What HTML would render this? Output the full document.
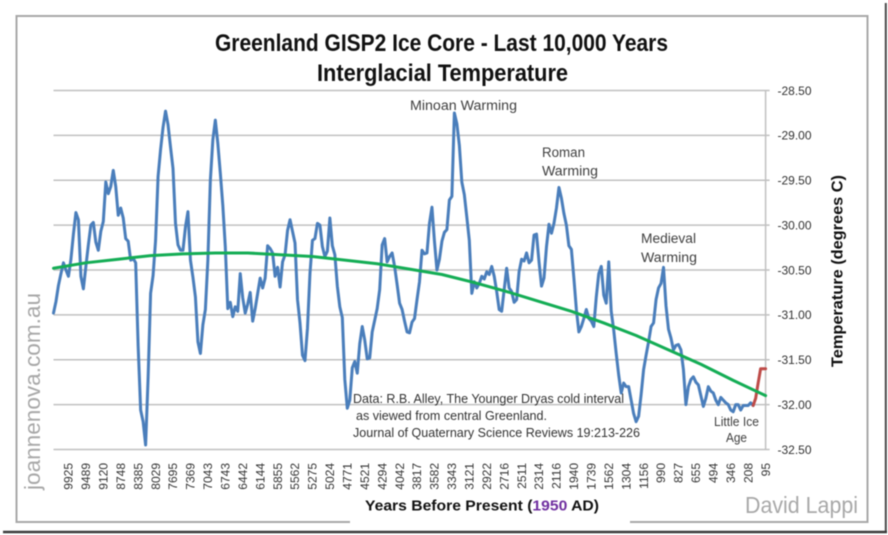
<!DOCTYPE html>
<html lang="en">
<head>
<meta charset="utf-8">
<title>Greenland GISP2 Ice Core - Last 10,000 Years</title>
<style>
html,body{margin:0;padding:0;background:#fff;width:888px;height:535px;overflow:hidden}
svg{display:block;filter:blur(0.45px)}
text{font-family:"Liberation Sans",sans-serif}
</style>
</head>
<body>
<svg id="chart" xmlns="http://www.w3.org/2000/svg" width="888" height="535" viewBox="0 0 888 535">
  <rect x="0" y="0" width="888" height="535" fill="#ffffff"/>
  <line x1="885.8" y1="3" x2="885.8" y2="533" stroke="#4a4a4a" stroke-width="2"/>
  <line x1="3" y1="532" x2="887" y2="532" stroke="#3c3c3c" stroke-width="2.4"/>
  <rect x="16.5" y="16" width="851" height="506" fill="#ffffff" stroke="#a8a8a8" stroke-width="2"/>
  <rect x="350" y="515" width="280" height="10" fill="#ffffff"/>
  <g id="grid"></g>
  <g id="series"></g>
  <g id="yTicks"></g>
  <g id="xTicks"></g>

  <text x="215" y="51" font-size="24" font-weight="700" fill="#111" textLength="453" lengthAdjust="spacingAndGlyphs">Greenland GISP2 Ice Core - Last 10,000 Years</text>
  <text x="317" y="81" font-size="24" font-weight="700" fill="#111" textLength="251" lengthAdjust="spacingAndGlyphs">Interglacial Temperature</text>

  <text x="410" y="110" font-size="13.5" fill="#404040" textLength="107" lengthAdjust="spacingAndGlyphs">Minoan Warming</text>
  <text x="542" y="157" font-size="13.5" fill="#404040" textLength="43" lengthAdjust="spacingAndGlyphs">Roman</text>
  <text x="542" y="175.5" font-size="13.5" fill="#404040" textLength="56" lengthAdjust="spacingAndGlyphs">Warming</text>
  <text x="641" y="243" font-size="13.5" fill="#404040" textLength="55" lengthAdjust="spacingAndGlyphs">Medieval</text>
  <text x="641" y="262" font-size="13.5" fill="#404040" textLength="56" lengthAdjust="spacingAndGlyphs">Warming</text>
  <text x="353" y="403" font-size="12.5" fill="#333" textLength="271" lengthAdjust="spacingAndGlyphs">Data: R.B. Alley,  The Younger Dryas cold interval</text>
  <text x="356" y="420" font-size="12.5" fill="#333" textLength="191" lengthAdjust="spacingAndGlyphs">as viewed from central Greenland.</text>
  <text x="353" y="437" font-size="12.5" fill="#333" textLength="287" lengthAdjust="spacingAndGlyphs">Journal of Quaternary  Science Reviews 19:213-226</text>
  <text x="714" y="426" font-size="12.5" fill="#404040" textLength="45" lengthAdjust="spacingAndGlyphs">Little Ice</text>
  <text x="726" y="442" font-size="12.5" fill="#404040" textLength="21" lengthAdjust="spacingAndGlyphs">Age</text>

  <text x="365" y="510.5" font-size="14.5" font-weight="700" fill="#111" textLength="234" lengthAdjust="spacingAndGlyphs">Years Before Present (<tspan fill="#7030a0">1950</tspan> AD)</text>
  <text transform="translate(842.5,367) rotate(-90)" font-size="15.5" font-weight="700" fill="#111" textLength="192" lengthAdjust="spacingAndGlyphs">Temperature (degrees C)</text>
  <text transform="translate(40,490) rotate(-90)" font-size="22" fill="#a8a8a8" textLength="197" lengthAdjust="spacingAndGlyphs">joannenova.com.au</text>
  <text x="745" y="513" font-size="23" fill="#a8a8a8" textLength="113" lengthAdjust="spacingAndGlyphs">David Lappi</text>
</svg>
<script>
var tickLabels = [9925,9489,9120,8748,8385,8029,7695,7369,7043,6743,6442,6144,5855,5562,5275,5024,4771,4521,4294,4042,3817,3582,3343,3121,2922,2716,2511,2314,2116,1940,1739,1562,1304,1156,990,827,655,494,346,208,95];
var yTickValues = [-28.5,-29,-29.5,-30,-30.5,-31,-31.5,-32,-32.5];
var gispTemps = [
-30.98,-30.85,-30.67,-30.54,-30.42,-30.50,-30.57,-30.38,-30.10,-29.86,
-29.94,-30.57,-30.71,-30.46,-30.22,-30.00,-29.97,-30.19,-30.28,-30.07,
-29.96,-29.52,-29.65,-29.57,-29.39,-29.57,-29.89,-29.81,-29.92,-30.15,
-30.18,-30.39,-30.37,-30.42,-31.35,-32.06,-32.19,-32.45,-31.70,-30.76,
-30.56,-30.17,-29.46,-29.16,-28.91,-28.73,-28.88,-29.13,-29.37,-29.98,
-30.22,-30.28,-30.28,-30.02,-29.85,-30.39,-30.58,-30.80,-31.30,-31.43,
-31.11,-30.94,-30.39,-29.50,-29.05,-28.83,-29.09,-29.42,-29.78,-30.24,
-30.93,-30.86,-31.02,-30.91,-30.96,-30.54,-30.81,-30.98,-30.88,-30.75,
-31.07,-30.93,-30.76,-30.59,-30.70,-30.59,-30.23,-30.26,-30.31,-30.57,
-30.47,-30.69,-30.41,-30.33,-30.06,-29.94,-30.07,-30.20,-30.83,-31.09,
-31.45,-31.51,-31.15,-30.54,-30.17,-30.15,-29.98,-30.00,-30.24,-30.35,
-30.29,-29.92,-30.23,-30.33,-30.68,-30.91,-31.03,-31.72,-32.04,-31.95,
-31.59,-31.52,-31.65,-31.32,-31.13,-31.28,-31.49,-31.48,-31.19,-31.06,
-30.93,-30.72,-30.22,-30.15,-30.41,-30.35,-30.31,-30.46,-30.66,-30.87,
-30.94,-31.07,-31.19,-31.20,-31.08,-31.04,-30.83,-30.63,-30.28,-30.32,
-30.31,-29.98,-29.80,-30.18,-30.50,-30.38,-30.18,-30.08,-30.05,-29.72,
-29.68,-28.75,-28.87,-29.11,-29.52,-29.66,-29.91,-30.17,-30.76,-30.63,
-30.70,-30.65,-30.57,-30.60,-30.52,-30.55,-30.46,-30.57,-30.74,-30.94,
-30.96,-30.72,-30.48,-30.70,-30.74,-30.86,-30.83,-30.52,-30.38,-30.40,
-30.31,-30.42,-30.39,-30.11,-30.10,-30.41,-30.68,-30.59,-30.24,-29.99,
-30.09,-29.98,-29.81,-29.58,-29.70,-29.87,-30.00,-30.23,-30.27,-30.59,
-30.94,-31.19,-31.13,-31.04,-30.94,-31.04,-31.07,-31.13,-30.80,-30.54,
-30.46,-30.78,-30.87,-30.41,-30.96,-31.17,-31.43,-31.67,-31.87,-31.76,
-31.80,-31.80,-31.95,-32.10,-32.19,-32.13,-31.89,-31.61,-31.45,-31.30,
-31.13,-31.09,-30.83,-30.70,-30.65,-30.47,-30.90,-31.16,-31.26,-31.39,
-31.34,-31.33,-31.39,-31.61,-32.00,-31.80,-31.72,-31.69,-31.75,-31.78,
-31.90,-32.02,-31.93,-31.80,-31.85,-31.87,-31.95,-32.00,-31.92,-31.95,
-31.98,-32.00,-32.06,-32.08,-32.00,-32.00,-32.06,-32.01,-32.01,-32.01,
-31.98,-32.01
];
var modernTemps = [-32.01,-31.93,-31.76,-31.60,-31.60,-31.60];
var trendTemps = [-30.48,-30.42,-30.38,-30.34,-30.32,-30.31,-30.31,-30.33,-30.35,-30.39,-30.43,-30.49,-30.55,-30.64,-30.74,-30.85,-30.96,-31.09,-31.23,-31.39,-31.55,-31.73,-31.90];

var NS = 'http://www.w3.org/2000/svg';
var plotLeft = 53.5, plotRight = 765.6, plotTop = 90.5, plotBottom = 449.5;
var sampleCount = gispTemps.length + modernTemps.length - 1;
var firstTickSample = 6, samplesPerTick = 7;
var trendStep = (sampleCount - 1) / (trendTemps.length - 1);

function xScale(sample) {
  return plotLeft + sample * (plotRight - plotLeft) / (sampleCount - 1);
}
function yScale(temp) {
  return plotTop + (yTickValues[0] - temp) * (plotBottom - plotTop) / (yTickValues[0] - yTickValues[yTickValues.length - 1]);
}
function make(tag, attrs, parent) {
  var el = document.createElementNS(NS, tag);
  for (var k in attrs) el.setAttribute(k, attrs[k]);
  parent.appendChild(el);
  return el;
}
function pointsFor(values, startSample, step) {
  return values.map(function (t, i) {
    return xScale(startSample + i * step).toFixed(2) + ',' + yScale(t).toFixed(2);
  }).join(' ');
}

var grid = document.getElementById('grid');
var yTicksGroup = document.getElementById('yTicks');
yTickValues.forEach(function (v) {
  var y = yScale(v);
  var line = make('line', {x1: plotLeft, y1: y, x2: plotRight + 4, y2: y, stroke: '#c0c0c0', 'stroke-width': 1.5}, grid);
  
  
  var label = make('text', {x: 777.5, y: y + 4.3, 'font-size': 12, fill: '#333'}, yTicksGroup);
  label.textContent = v.toFixed(2);
  
  
});
var axisLine = make('line', {x1: plotRight, y1: plotTop, x2: plotRight, y2: plotBottom, stroke: '#c0c0c0', 'stroke-width': 1.5}, grid);



var xTicksGroup = document.getElementById('xTicks');
tickLabels.forEach(function (age, i) {
  var x = xScale(firstTickSample + i * samplesPerTick);
  var label = make('text', {transform: 'translate(' + (x + 4.2).toFixed(2) + ',463) rotate(-90)', 'text-anchor': 'end', 'font-size': 12, fill: '#333'}, xTicksGroup);
  label.textContent = String(age);
  
  
});

var seriesGroup = document.getElementById('series');
var common = {fill: 'none', 'stroke-linejoin': 'round', 'stroke-linecap': 'round', 'stroke-width': 3};

var bluePath = make('polyline', common, seriesGroup);
bluePath.setAttribute('points', pointsFor(gispTemps, 0, 1));
bluePath.setAttribute('stroke', '#4a7ebb');



var redPath = make('polyline', common, seriesGroup);
redPath.setAttribute('points', pointsFor(modernTemps, gispTemps.length - 1, 1));
redPath.setAttribute('stroke', '#be4b48');



var greenPath = make('polyline', common, seriesGroup);
greenPath.setAttribute('points', pointsFor(trendTemps, 0, trendStep));
greenPath.setAttribute('stroke', '#14ad55');


</script>
</body>
</html>
